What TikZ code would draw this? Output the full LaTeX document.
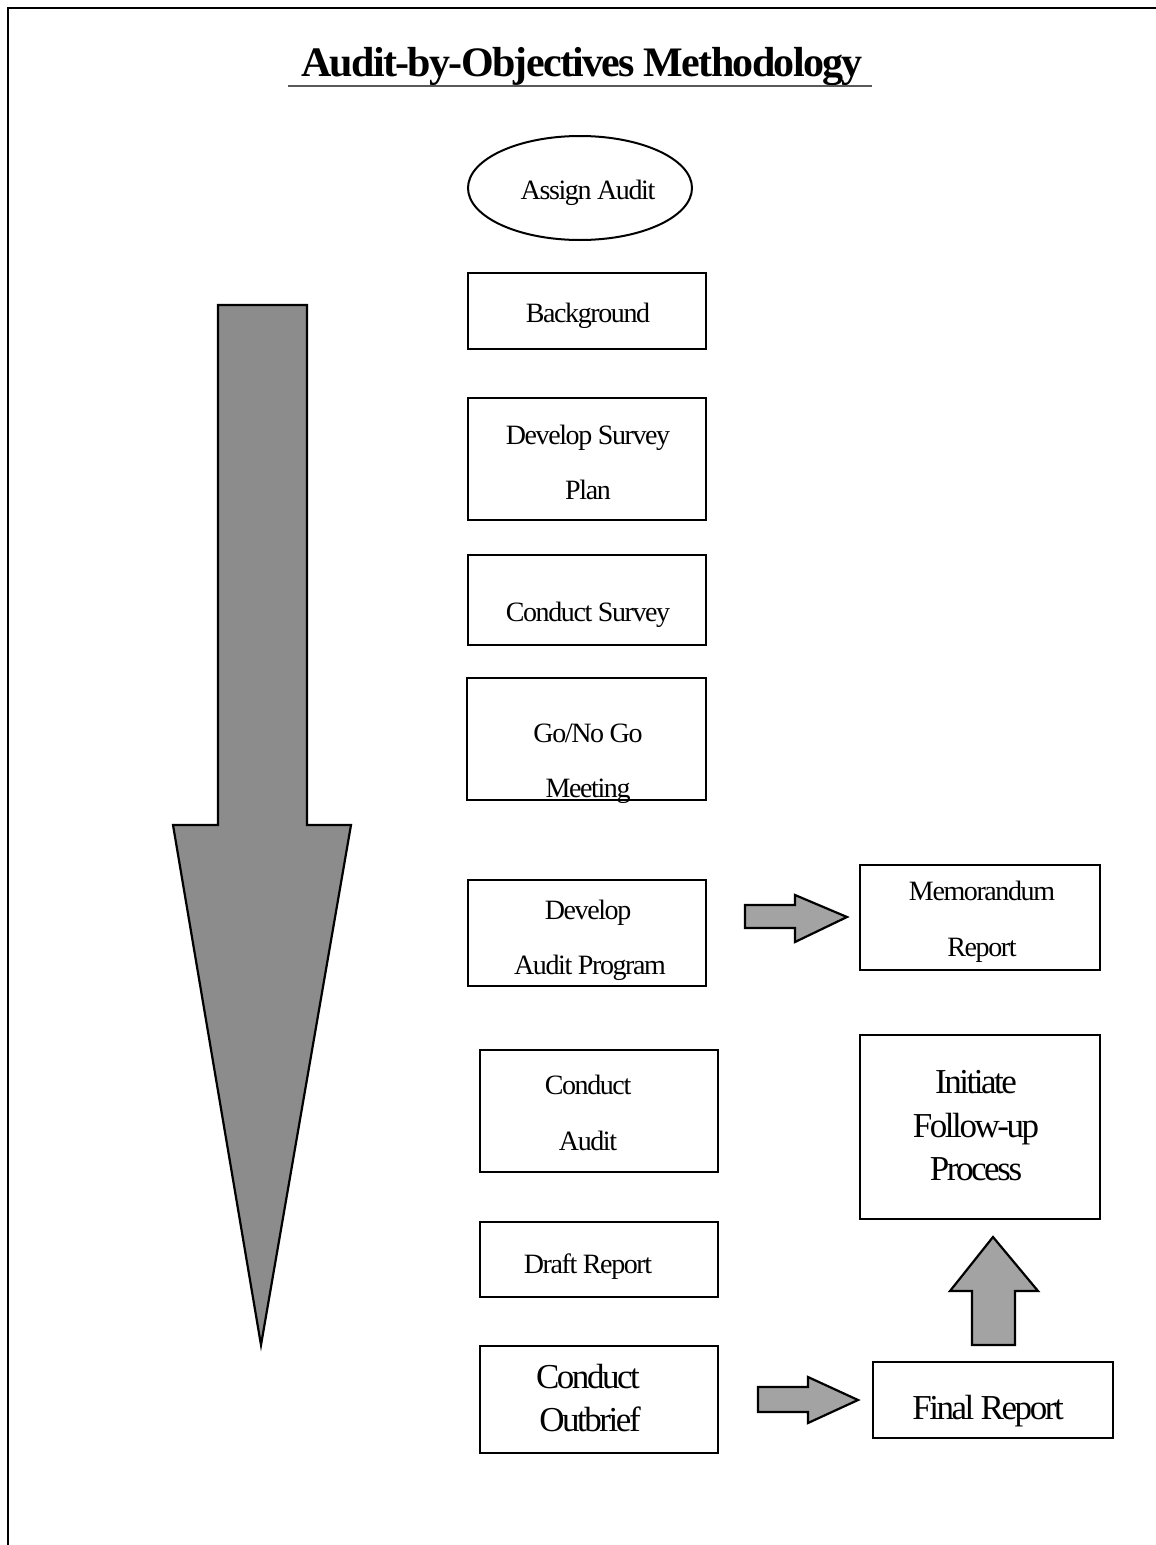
\documentclass[tikz,border=0pt]{standalone}
\usepackage{fontspec}
\setmainfont{Liberation Serif}
\newfontfamily\fnorm[LetterSpace=-5]{Liberation Serif}
\newfontfamily\fbig[LetterSpace=-7]{Liberation Serif}
\newfontfamily\ftitle[LetterSpace=-4]{Liberation Serif}
\usetikzlibrary{shapes.geometric}
\begin{document}
\begin{tikzpicture}[x=1pt,y=-1pt,
  box/.style={draw=black,line width=2.2pt,rectangle,inner sep=0pt},
  oval/.style={draw=black,line width=2pt,ellipse,inner sep=0pt},
  txt/.style={anchor=base,inner sep=0pt,font=\fnorm\fontsize{28}{30}\selectfont},
  bigtxt/.style={anchor=base,inner sep=0pt,font=\fbig\fontsize{35}{38}\selectfont},
  titletxt/.style={anchor=base,inner sep=0pt,font=\ftitle\bfseries\fontsize{42}{46}\selectfont},
  bigarrow/.style={draw=black,line width=2.2pt,fill=black!45,line join=miter},
  smallarrow/.style={draw=black,line width=2.2pt,fill=black!36,line join=miter}]
\useasboundingbox (0,0) rectangle (1156,1545);
\fill[white] (0,0) rectangle (1156,1545);
% frame
\draw[line width=1.8pt] (8,1545) -- (8,8) -- (1156,8);
% title
\node[titletxt] (title) at (582,76) {Audit-by-Objectives Methodology};
\draw[line width=1.6pt,black!65] (288,86) -- (872,86);
% big arrow
\draw[bigarrow] (218,305) -- (307,305) -- (307,825) -- (351,825) -- (261,1345) -- (173,825) -- (218,825) -- cycle;
% nodes
\node[oval,minimum width=224pt,minimum height=104pt] (assign) at (580,188) {};
\node[box,minimum width=238pt,minimum height=76pt] (bg) at (587,311) {};
\node[box,minimum width=238pt,minimum height=122pt] (dsp) at (587,459) {};
\node[box,minimum width=238pt,minimum height=90pt] (cs) at (587,600) {};
\node[box,minimum width=239pt,minimum height=122pt] (gng) at (586.5,739) {};
\node[box,minimum width=238pt,minimum height=106pt] (dap) at (587,933) {};
\node[box,minimum width=240pt,minimum height=105pt] (memo) at (980,917.5) {};
\node[box,minimum width=238pt,minimum height=122pt] (ca) at (599,1111) {};
\node[box,minimum width=238pt,minimum height=75pt] (dr) at (599,1259.5) {};
\node[box,minimum width=238pt,minimum height=107pt] (co) at (599,1399.5) {};
\node[box,minimum width=240pt,minimum height=76pt] (fr) at (993,1400) {};
\node[box,minimum width=240pt,minimum height=184pt] (ifp) at (980,1127) {};
% texts
\node[txt] (t1) at (588,199) {Assign Audit};
\node[txt] (t2) at (588,322) {Background};
\node[txt] (t3) at (588,444) {Develop Survey};
\node[txt] (t4) at (588,499) {Plan};
\node[txt] (t5) at (588,621) {Conduct Survey};
\node[txt] (t6) at (588,742) {Go/No Go};
\node[txt] (t7) at (588,797) {Meeting};
\node[txt] (t8) at (588,919) {Develop};
\node[txt] (t9) at (590,974) {Audit Program};
\node[txt] (t10) at (982,900) {Memorandum};
\node[txt] (t11) at (982,956) {Report};
\node[txt] (t12) at (588,1094) {Conduct};
\node[txt] (t13) at (588,1150) {Audit};
\node[txt] (t14) at (588,1273) {Draft Report};
\node[bigtxt] (t15) at (588,1388) {Conduct};
\node[bigtxt] (t16) at (590,1431) {Outbrief};
\node[bigtxt] (t17) at (988,1419) {Final Report};
\node[bigtxt] (t18) at (976,1093) {Initiate};
\node[bigtxt] (t19) at (976,1137) {Follow-up};
\node[bigtxt] (t20) at (976,1180) {Process};
% block arrows
\draw[smallarrow] (745,905) -- (795,905) -- (795,895) -- (847,917) -- (795,942) -- (795,928) -- (745,928) -- cycle;
\draw[smallarrow] (758,1387) -- (808,1387) -- (808,1377) -- (858,1400) -- (808,1423) -- (808,1412) -- (758,1412) -- cycle;
\draw[smallarrow] (972,1345) -- (1015,1345) -- (1015,1291) -- (1038,1291) -- (993,1237) -- (950,1291) -- (972,1291) -- cycle;
\end{tikzpicture}
\end{document}
